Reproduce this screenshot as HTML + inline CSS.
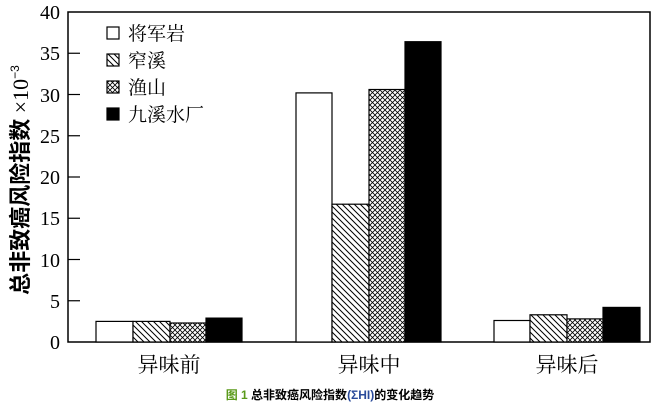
<!DOCTYPE html><html><head><meta charset="utf-8"><style>body{margin:0;background:#fff}svg{display:block}</style></head><body>
<svg width="665" height="406" xmlns="http://www.w3.org/2000/svg" font-family="'Liberation Serif','Noto Serif CJK SC',serif">
<defs>
<pattern id="d" width="6" height="6" patternUnits="userSpaceOnUse"><rect width="6" height="6" fill="#fff"/><path d="M-1,-1 L7,7 M-4,2 L4,10 M2,-4 L10,4" stroke="#000" stroke-width="1"/></pattern>
<pattern id="c" width="5" height="5" patternUnits="userSpaceOnUse"><rect width="5" height="5" fill="#fff"/><path d="M0,0 L5,5 M5,0 L0,5" stroke="#000" stroke-width="0.8"/></pattern>
</defs>
<rect x="68" y="12" width="582" height="330" fill="none" stroke="#000" stroke-width="1.5"/>
<g stroke="#000" stroke-width="1.2">
<line x1="68" y1="300.75" x2="80" y2="300.75"/><line x1="68" y1="259.5" x2="80" y2="259.5"/><line x1="68" y1="218.25" x2="80" y2="218.25"/><line x1="68" y1="177" x2="80" y2="177"/><line x1="68" y1="135.75" x2="80" y2="135.75"/><line x1="68" y1="94.5" x2="80" y2="94.5"/><line x1="68" y1="53.25" x2="80" y2="53.25"/>
</g>
<g font-size="20" text-anchor="end">
<text x="60" y="349">0</text><text x="60" y="308">5</text><text x="60" y="267">10</text><text x="60" y="225">15</text><text x="60" y="184">20</text><text x="60" y="143">25</text><text x="60" y="102">30</text><text x="60" y="60">35</text><text x="60" y="19">40</text>
</g>
<text transform="translate(28,180) rotate(-90)" font-size="22" font-weight="bold" text-anchor="middle" font-family="'Liberation Sans','Noto Sans CJK SC',sans-serif">总非致癌风险指数<tspan font-weight="normal" font-family="'Liberation Serif',serif"> ×10</tspan><tspan font-size="12" font-weight="normal" dy="-9">−3</tspan></text>
<g stroke="#000" stroke-width="1.2">
<rect x="96" y="321.4" width="37" height="20.6" fill="#fff"/><rect x="133" y="321.4" width="37" height="20.6" fill="url(#d)"/><rect x="170" y="323" width="36" height="19" fill="url(#c)"/><rect x="206" y="318.1" width="36" height="23.9" fill="#000"/>
<rect x="296" y="92.9" width="36" height="249.1" fill="#fff"/><rect x="332" y="204.2" width="37" height="137.8" fill="url(#d)"/><rect x="369" y="89.5" width="36" height="252.5" fill="url(#c)"/><rect x="405" y="41.7" width="36" height="300.3" fill="#000"/>
<rect x="494" y="320.5" width="36" height="21.5" fill="#fff"/><rect x="530" y="314.8" width="37" height="27.2" fill="url(#d)"/><rect x="567" y="318.9" width="36" height="23.1" fill="url(#c)"/><rect x="603" y="307.4" width="37" height="34.6" fill="#000"/>
<rect x="107" y="27" width="12" height="12" fill="#fff"/><rect x="107" y="54" width="12" height="12" fill="url(#d)"/><rect x="107" y="81" width="12" height="12" fill="url(#c)"/><rect x="107" y="108" width="12" height="12" fill="#000"/>
</g>
<g font-size="19">
<text x="128" y="40">将军岩</text><text x="128" y="67">窄溪</text><text x="128" y="94">渔山</text><text x="128" y="121">九溪水厂</text>
</g>
<g font-size="21" text-anchor="middle">
<text x="169" y="372">异味前</text><text x="369" y="372">异味中</text><text x="567" y="372">异味后</text>
</g>
<text x="330" y="399" font-size="12" font-weight="bold" text-anchor="middle" font-family="'Liberation Sans','Noto Sans CJK SC',sans-serif"><tspan fill="#5a9a1a">图 1</tspan> 总非致癌风险指数<tspan fill="#2a4a9a">(ΣHI)</tspan>的变化趋势</text>
</svg></body></html>
